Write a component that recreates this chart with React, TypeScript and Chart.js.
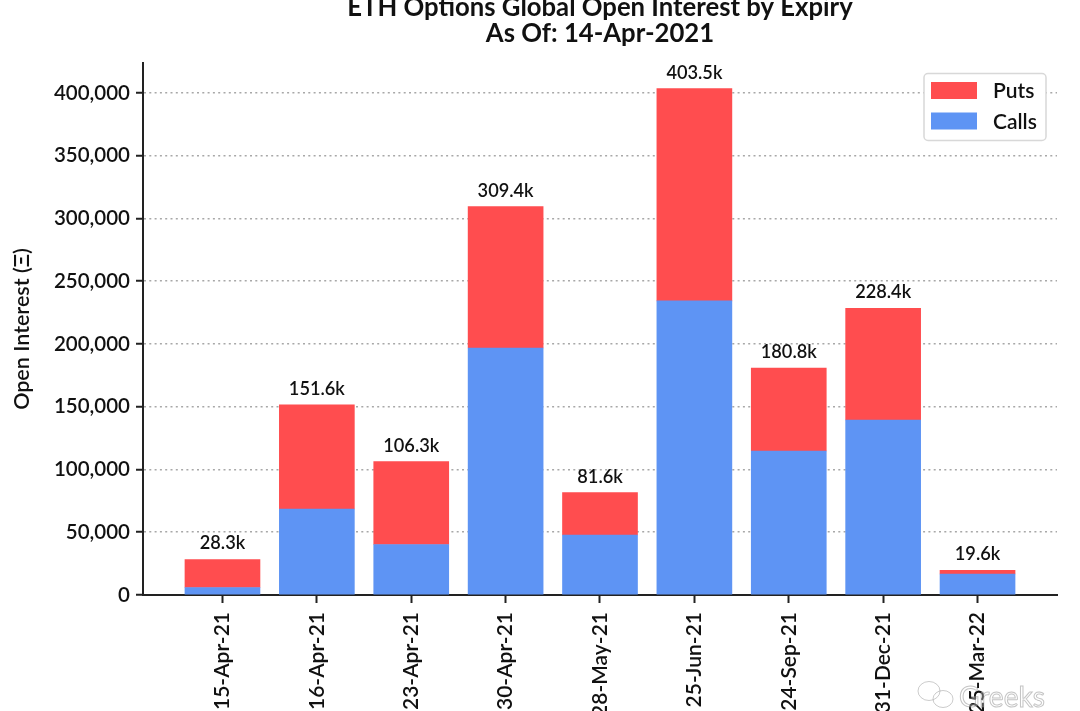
import React, { useEffect, useRef } from "react";
import { Chart, registerables } from "chart.js";

Chart.register(...registerables);

const expiries = ["15-Apr-21", "16-Apr-21", "23-Apr-21", "30-Apr-21", "28-May-21", "25-Jun-21", "24-Sep-21", "31-Dec-21", "25-Mar-22"];
const calls = [6000, 68500, 40200, 196800, 47800, 234300, 114700, 139400, 16700];
const puts = [22300, 83100, 66100, 112600, 33800, 169200, 66100, 89000, 2900];
const yTicks = [0, 50000, 100000, 150000, 200000, 250000, 300000, 350000, 400000];
const titleLines = ["ETH Options Global Open Interest by Expiry", "As Of: 14-Apr-2021"];
const yAxisTitle = "Open Interest (Ξ)";
const watermark = "Greeks";

const FONT = "Lato, sans-serif";
const INK = "#111111";
const RED = "#FF4D4F";
const BLUE = "#5E94F4";

const totalLabels = {
  id: "totalLabels",
  afterDatasetsDraw(chart: any) {
    const { ctx, scales } = chart;
    ctx.save();
    ctx.font = `600 18.2px ${FONT}`;
    ctx.fillStyle = INK;
    ctx.textAlign = "center";
    ctx.textBaseline = "alphabetic";
    expiries.forEach((_, i) => {
      const total = calls[i] + puts[i];
      ctx.fillText(`${(total / 1000).toFixed(1)}k`, scales.x.getPixelForValue(i), scales.y.getPixelForValue(total) - 10);
    });
    ctx.restore();
  },
};

const frameLegend = {
  id: "frameLegend",
  afterDatasetsDraw(chart: any) {
    const { ctx } = chart;
    const items = [...chart.data.datasets].reverse();
    ctx.save();
    ctx.beginPath();
    ctx.roundRect(924, 73.5, 122, 67, 4);
    ctx.fillStyle = "#ffffff";
    ctx.fill();
    ctx.lineWidth = 1.5;
    ctx.strokeStyle = "#d8d8d8";
    ctx.stroke();
    ctx.font = `600 21px ${FONT}`;
    ctx.textBaseline = "middle";
    ctx.textAlign = "left";
    items.forEach((d: any, i: number) => {
      const y = 90.5 + i * 30.5;
      ctx.fillStyle = d.backgroundColor;
      ctx.fillRect(931, y - 8.5, 46, 17);
      ctx.fillStyle = INK;
      ctx.fillText(d.label, 993, y + 1);
    });
    ctx.restore();
  },
};

const faintMark = {
  id: "faintMark",
  afterDraw(chart: any) {
    const { ctx } = chart;
    ctx.save();
    ctx.globalAlpha = 0.5;
    ctx.strokeStyle = "#9a9a9a";
    ctx.lineWidth = 1;
    ctx.beginPath();
    ctx.ellipse(929, 691, 11, 9.5, 0, 0, Math.PI * 2);
    ctx.moveTo(953, 699);
    ctx.ellipse(943, 699, 10, 8.5, 0, 0, Math.PI * 2);
    ctx.stroke();
    ctx.font = `28px ${FONT}`;
    ctx.textAlign = "left";
    ctx.textBaseline = "alphabetic";
    ctx.fillStyle = "rgba(255,255,255,0.6)";
    ctx.fillText(watermark, 959, 707);
    ctx.strokeStyle = "#8a8a8a";
    ctx.strokeText(watermark, 959, 707);
    ctx.restore();
  },
};

export default function App() {
  const ref = useRef<HTMLCanvasElement>(null);
  useEffect(() => {
    const chart = new Chart(ref.current as HTMLCanvasElement, {
      type: "bar",
      data: {
        datasets: [
          { label: "Calls", data: calls.map((y, x) => ({ x, y })), backgroundColor: BLUE, barThickness: 75, borderWidth: 0 },
          { label: "Puts", data: puts.map((y, x) => ({ x, y })), backgroundColor: RED, barThickness: 75, borderWidth: 0 },
        ],
      },
      options: {
        animation: false,
        responsive: false,
        devicePixelRatio: 1,
        layout: { padding: { left: 0, right: 23, top: 0, bottom: 0 } },
        plugins: {
          legend: { display: false },
          tooltip: { enabled: false },
          title: {
            display: true,
            text: titleLines,
            fullSize: false,
            color: INK,
            font: { family: FONT, size: 25.7, weight: "bold", lineHeight: 1.03 },
            padding: { top: -6, bottom: 16 },
          },
        },
        scales: {
          x: {
            type: "linear",
            stacked: true,
            offset: false,
            min: -0.842,
            max: 8.842,
            afterBuildTicks(axis: any) {
              axis.ticks = expiries.map((_, value) => ({ value }));
            },
            afterFit(axis: any) {
              axis.height = 116;
            },
            grid: { display: true, offset: false, drawOnChartArea: false, drawTicks: true, tickLength: 8, tickColor: "#222222", tickWidth: 2 },
            border: { display: true, color: "#222222", width: 2 },
            ticks: {
              autoSkip: false,
              includeBounds: false,
              maxRotation: 90,
              minRotation: 90,
              padding: 9,
              color: INK,
              font: { family: FONT, size: 21, weight: "600" },
              callback: (v: any) => expiries[v] ?? "",
            },
          },
          y: {
            stacked: true,
            min: 0,
            max: 423900,
            afterBuildTicks(axis: any) {
              axis.ticks = yTicks.map((value) => ({ value }));
            },
            afterFit(axis: any) {
              axis.width = 143;
            },
            grid: {
              color: "#a8a8a8",
              lineWidth: 1.5,
              tickColor: "#222222",
              tickWidth: 2,
              tickLength: 7,
              tickBorderDash: [],
              drawTicks: true,
            },
            border: { display: true, color: "#222222", width: 2, dash: [2, 3.3] },
            ticks: {
              includeBounds: false,
              padding: 6,
              color: INK,
              font: { family: FONT, size: 20.5, weight: "600" },
              callback: (v: any) => Number(v).toLocaleString("en-US"),
            },
            title: {
              display: true,
              text: yAxisTitle,
              color: INK,
              font: { family: FONT, size: 21.5, weight: "600" },
              padding: { top: 9, bottom: 0 },
            },
          },
        },
      } as any,
      plugins: [totalLabels, frameLegend, faintMark],
    });
    return () => chart.destroy();
  }, []);
  return <canvas ref={ref} width={1080} height={711} style={{ position: "absolute", left: 0, top: 0, display: "block" }} />;
}
